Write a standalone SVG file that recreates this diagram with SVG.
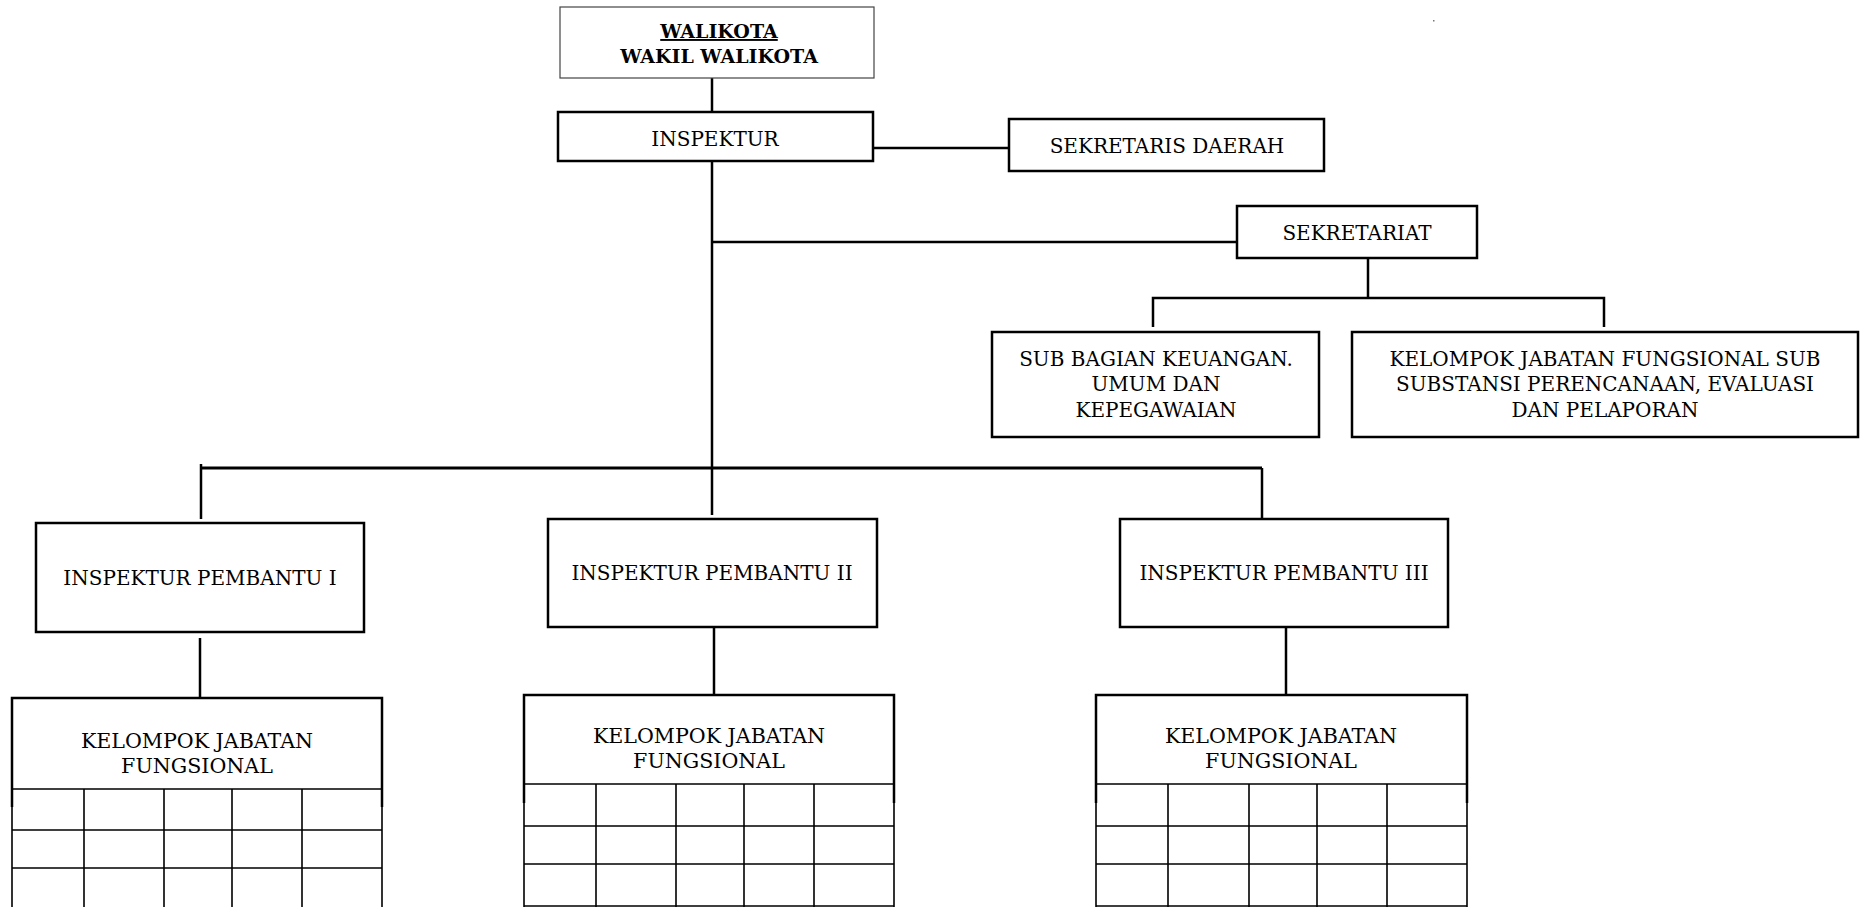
<svg xmlns="http://www.w3.org/2000/svg" width="1872" height="907" viewBox="0 0 1872 907">
<style>
.box{fill:#fff;stroke:#000;stroke-width:2.5}
.thin{fill:#fff;stroke:#444;stroke-width:1.2}
.t{font-family:"DejaVu Serif","Liberation Serif",serif;font-size:20px;fill:#000;text-anchor:middle}
.k{font-size:20.6px}
.tb{font-family:"DejaVu Serif","Liberation Serif",serif;font-size:19px;font-weight:bold;fill:#000;text-anchor:middle}
.c{stroke:#000;stroke-width:2.5;fill:none}
.bus{stroke:#000;stroke-width:3.2;fill:none}
.g{stroke:#000;stroke-width:1.6;fill:none}
</style>
<rect width="1872" height="907" fill="#fff"/>
<g id="connectors">
<line class="c" x1="712" y1="78" x2="712" y2="112"/>
<line class="c" x1="873" y1="148" x2="1009" y2="148"/>
<line class="c" x1="712" y1="161" x2="712" y2="515"/>
<line class="c" x1="712" y1="242" x2="1237" y2="242"/>
<line class="c" x1="1368" y1="258" x2="1368" y2="298"/>
<polyline class="c" points="1153,327 1153,298 1604,298 1604,327"/>
<line class="bus" x1="201" y1="468" x2="1262" y2="468"/>
<line class="c" x1="201" y1="464" x2="201" y2="519"/>
<line class="c" x1="1262" y1="468" x2="1262" y2="522"/>
<line class="c" x1="200" y1="638" x2="200" y2="698"/>
<line class="c" x1="714" y1="627" x2="714" y2="695"/>
<line class="c" x1="1286" y1="627" x2="1286" y2="695"/>
</g>
<g id="walikota">
<rect class="thin" x="560" y="7" width="314" height="71"/>
<text class="tb" x="719" y="38" text-decoration="underline">WALIKOTA</text>
<text class="tb" x="719" y="63">WAKIL WALIKOTA</text>
</g>
<g id="inspektur">
<rect class="box" x="558" y="112" width="315" height="49"/>
<text class="t" x="715" y="146">INSPEKTUR</text>
</g>
<g id="sekda">
<rect class="box" x="1009" y="119" width="315" height="52"/>
<text class="t" x="1167" y="153">SEKRETARIS DAERAH</text>
</g>
<g id="sekretariat">
<rect class="box" x="1237" y="206" width="240" height="52"/>
<text class="t" x="1357" y="240">SEKRETARIAT</text>
</g>
<g id="subbag">
<rect class="box" x="992" y="332" width="327" height="105"/>
<text class="t" x="1156" y="366">SUB BAGIAN KEUANGAN.</text>
<text class="t" x="1156" y="391">UMUM DAN</text>
<text class="t" x="1156" y="417">KEPEGAWAIAN</text>
</g>
<g id="kjf-sub">
<rect class="box" x="1352" y="332" width="506" height="105"/>
<text class="t" x="1605" y="366">KELOMPOK JABATAN FUNGSIONAL SUB</text>
<text class="t" x="1605" y="391">SUBSTANSI PERENCANAAN, EVALUASI</text>
<text class="t" x="1605" y="417">DAN PELAPORAN</text>
</g>
<g id="ip1">
<rect class="box" x="36" y="523" width="328" height="109"/>
<text class="t" x="200" y="585">INSPEKTUR PEMBANTU I</text>
</g>
<g id="ip2">
<rect class="box" x="548" y="519" width="329" height="108"/>
<text class="t" x="712" y="580">INSPEKTUR PEMBANTU II</text>
</g>
<g id="ip3">
<rect class="box" x="1120" y="519" width="328" height="108"/>
<text class="t" x="1284" y="580">INSPEKTUR PEMBANTU III</text>
</g>
<g id="kjf1">
<polyline class="c" points="12,807 12,698 382,698 382,807"/>
<text class="t k" x="197" y="748">KELOMPOK JABATAN</text>
<text class="t k" x="197" y="773">FUNGSIONAL</text>
<path class="g" d="M12,789H382M12,830H382M12,868H382M12,789V907M84,789V907M164,789V907M232,789V907M302,789V907M382,789V907"/>
</g>
<g id="kjf2">
<polyline class="c" points="524,803 524,695 894,695 894,803"/>
<text class="t k" x="709" y="743">KELOMPOK JABATAN</text>
<text class="t k" x="709" y="768">FUNGSIONAL</text>
<path class="g" d="M524,784H894M524,826H894M524,864H894M524,906H894M524,784V907M596,784V907M676,784V907M744,784V907M814,784V907M894,784V907"/>
</g>
<g id="kjf3">
<polyline class="c" points="1096,803 1096,695 1467,695 1467,803"/>
<text class="t k" x="1281" y="743">KELOMPOK JABATAN</text>
<text class="t k" x="1281" y="768">FUNGSIONAL</text>
<path class="g" d="M1096,784H1467M1096,826H1467M1096,864H1467M1096,906H1467M1096,784V907M1168,784V907M1249,784V907M1317,784V907M1387,784V907M1467,784V907"/>
</g>
<rect x="1433" y="20" width="1.5" height="1.5" fill="#777"/>
</svg>
